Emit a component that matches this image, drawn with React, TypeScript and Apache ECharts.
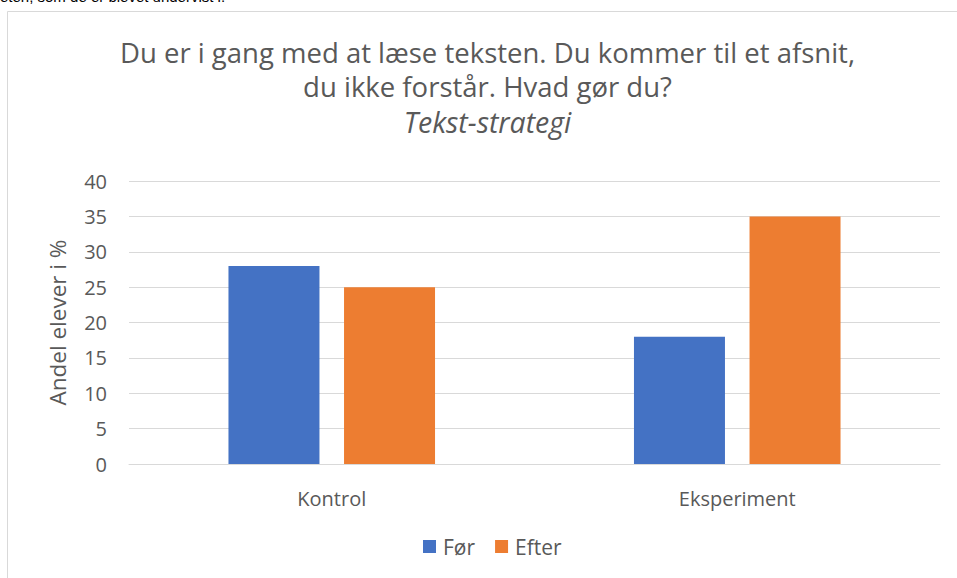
import React, { useEffect, useRef } from "react";
import * as echarts from "echarts";

const categories = ["Kontrol", "Eksperiment"];
const forValues = [28, 18];
const efterValues = [25, 35];
const seriesNames = ["Før", "Efter"];
const titleLines = [
  "Du er i gang med at læse teksten. Du kommer til et afsnit,",
  "du ikke forstår. Hvad gør du?",
];
const subtitle = "Tekst-strategi";
const yAxisName = "Andel elever i %";
const topText = "eten, som de er blevet undervist i.";

const FONT = "'Open Sans', sans-serif";
const GRAY = "#595959";
const CX = 487.5;

export default function App() {
  const ref = useRef<HTMLDivElement>(null);
  useEffect(() => {
    if (!ref.current) return;
    const chart = echarts.init(ref.current, null, { renderer: "svg" });
    const titleStyle = {
      fontFamily: FONT,
      fontSize: 27.5,
      lineHeight: 30,
      fill: GRAY,
      align: "center",
      verticalAlign: "middle",
    };
    chart.setOption({
      animation: false,
      backgroundColor: "#ffffff",
      textStyle: { fontFamily: FONT },
      graphic: [
        {
          type: "rect",
          shape: { x: 7.5, y: 11.5, width: 1000, height: 700 },
          style: { fill: "none", stroke: "#d9d9d9", lineWidth: 1 },
          z: -1,
        },
        {
          type: "text",
          x: 0,
          y: 4,
          style: {
            text: topText,
            fontFamily: "'Liberation Sans', sans-serif",
            fontSize: 15,
            fill: "#000000",
            verticalAlign: "bottom",
          },
        },
        {
          type: "text",
          x: CX,
          y: 52,
          style: { ...titleStyle, text: titleLines[0] },
        },
        {
          type: "text",
          x: CX,
          y: 86.5,
          style: { ...titleStyle, text: titleLines[1] },
        },
        {
          type: "text",
          x: CX,
          y: 122,
          style: { ...titleStyle, text: subtitle, fontStyle: "italic", fontSize: 28.5 },
        },
      ],
      legend: {
        bottom: 16,
        left: 418,
        itemWidth: 13,
        itemHeight: 13,
        itemGap: 20,
        icon: "rect",
        textStyle: { fontFamily: FONT, fontSize: 21, color: GRAY, padding: [0, 0, 0, 2] },
        data: seriesNames,
      },
      grid: { left: 129, right: 17, top: 181, bottom: 114 },
      xAxis: {
        type: "category",
        data: categories,
        axisLine: { lineStyle: { color: "#d9d9d9", width: 1 } },
        axisTick: { show: false },
        axisLabel: { fontFamily: FONT, fontSize: 20, color: GRAY, margin: 24 },
      },
      yAxis: {
        type: "value",
        min: 0,
        max: 40,
        interval: 5,
        name: yAxisName,
        nameLocation: "middle",
        nameGap: 60,
        nameTextStyle: { fontFamily: FONT, fontSize: 22.5, color: GRAY },
        axisLabel: { fontFamily: FONT, fontSize: 20, color: GRAY, margin: 22 },
        splitLine: { lineStyle: { color: "#d9d9d9", width: 1 } },
        axisLine: { show: false },
        axisTick: { show: false },
      },
      series: [
        {
          name: seriesNames[0],
          type: "bar",
          data: forValues,
          barWidth: 91,
          barGap: "27%",
          itemStyle: { color: "#4472c4" },
        },
        {
          name: seriesNames[1],
          type: "bar",
          data: efterValues,
          barWidth: 91,
          itemStyle: { color: "#ed7d31" },
        },
      ],
    });
    return () => chart.dispose();
  }, []);
  return (
    <div
      ref={ref}
      style={{ position: "fixed", left: 0, top: 0, width: 957, height: 578 }}
    />
  );
}
